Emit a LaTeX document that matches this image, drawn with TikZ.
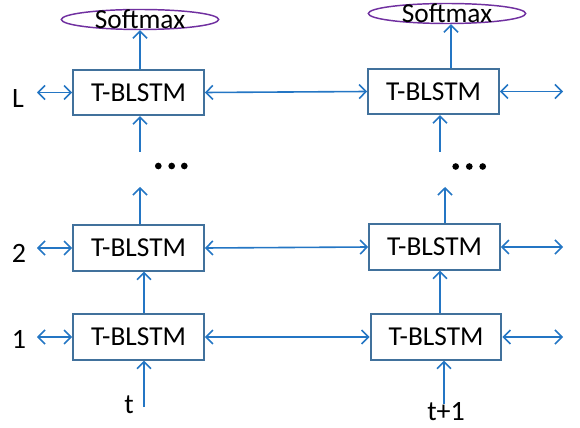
\documentclass[tikz,border=0pt]{standalone}
\usepackage{fontspec}
\setmainfont{Carlito}
\usetikzlibrary{arrows.meta,shapes.geometric,calc}
\definecolor{flow}{RGB}{36,118,196}
\definecolor{boxedge}{RGB}{65,113,156}
\definecolor{smedge}{RGB}{112,48,160}
\begin{document}
\begin{tikzpicture}[x=0.75pt,y=-0.75pt,
  cell/.style={draw=boxedge,line width=1.5pt,fill=white,minimum width=98pt,minimum height=34pt,inner sep=0pt,font=\fontsize{20.5}{24}\selectfont},
  smax/.style={draw=smedge,line width=1.1pt,ellipse,minimum width=118pt,minimum height=15pt,inner sep=0pt},
  smtext/.style={font=\fontsize{20.5}{24}\selectfont,inner sep=0pt},
  lab/.style={font=\fontsize{21}{24}\selectfont,inner sep=0pt},
  link/.style={draw=flow,line width=1.2pt,-{Straight Barb[length=5.2pt,width=10.5pt,line width=1.2pt]}},
  blink/.style={draw=flow,line width=1.2pt,{Straight Barb[length=5.2pt,width=10.5pt,line width=1.2pt]}-{Straight Barb[length=5.2pt,width=10.5pt,line width=1.2pt]}},
  dot/.style={fill=black,circle,inner sep=0pt,minimum size=5pt}]
\useasboundingbox (0,0) rectangle (580,427);

% T-BLSTM cells, column t and column t+1
\node[cell] (aL) at (138.5,92.5) {T-BLSTM};
\node[cell] (a2) at (138.5,248) {T-BLSTM};
\node[cell] (a1) at (138.5,337) {T-BLSTM};
\node[cell] (bL) at (433.5,91.5) {T-BLSTM};
\node[cell] (b2) at (434.5,247) {T-BLSTM};
\node[cell] (b1) at (436,337) {T-BLSTM};

% softmax outputs
\node[smax,label={[smtext]center:Softmax}] (sa) at (140,19.5) {};
\node[smax,label={[smtext]center:Softmax}] (sb) at (447,13.5) {};

% layer and time labels
\node[lab] (lL) at (18,99) {L};
\node[lab] (l2) at (19,253) {2};
\node[lab] (l1) at (19,339) {1};
\node[lab] (tt) at (129,405) {t};
\node[lab] (t1) at (446,412) {t+1};

% ellipsis between layer 2 and layer L
\foreach \x [count=\i] in {158.3,171.7,184.3} \node[dot] (da\i) at (\x,166) {};
\foreach \x [count=\i] in {455.7,469.3,482.7} \node[dot] (db\i) at (\x,166.5) {};

% free ends of the dangling connectors
\coordinate (ea) at (37,92.5);  \coordinate (e2) at (37,248);  \coordinate (e1) at (37,337);
\coordinate (fa) at (563,91.5); \coordinate (f2) at (563,247); \coordinate (f1) at (563,337);
\coordinate (ua) at (140,152);  \coordinate (va) at (140,187);
\coordinate (ub) at (440,152);  \coordinate (vb) at (445,187);
\coordinate (ia) at (144,407);  \coordinate (ib) at (444,404);

% horizontal (bidirectional) connections
\draw[blink] (ea) -- (aL.west);
\draw[blink] (e2) -- (a2.west);
\draw[blink] (e1) -- (a1.west);
\draw[blink] (aL.east) -- (bL.west);
\draw[blink] (a2.east) -- (b2.west);
\draw[blink] (a1.east) -- (b1.west);
\draw[blink] (bL.east) -- (fa);
\draw[blink] (b2.east) -- (f2);
\draw[blink] (b1.east) -- (f1);

% vertical flow, column t
\draw[link] (aL.north -| sa.south) -- (sa.south);
\draw[link] (ua) -- (ua |- aL.south);
\draw[link] (va |- a2.north) -- (va);
\draw[link] (144,0 |- a1.north) -- (144,0 |- a2.south);
\draw[link] (ia) -- (ia |- a1.south);

% vertical flow, column t+1
\draw[link] (451,0 |- bL.north) -- (451,0 |- sb.south);
\draw[link] (ub) -- (ub |- bL.south);
\draw[link] (vb |- b2.north) -- (vb);
\draw[link] (440,0 |- b1.north) -- (440,0 |- b2.south);
\draw[link] (ib) -- (ib |- b1.south);
\end{tikzpicture}
\end{document}
